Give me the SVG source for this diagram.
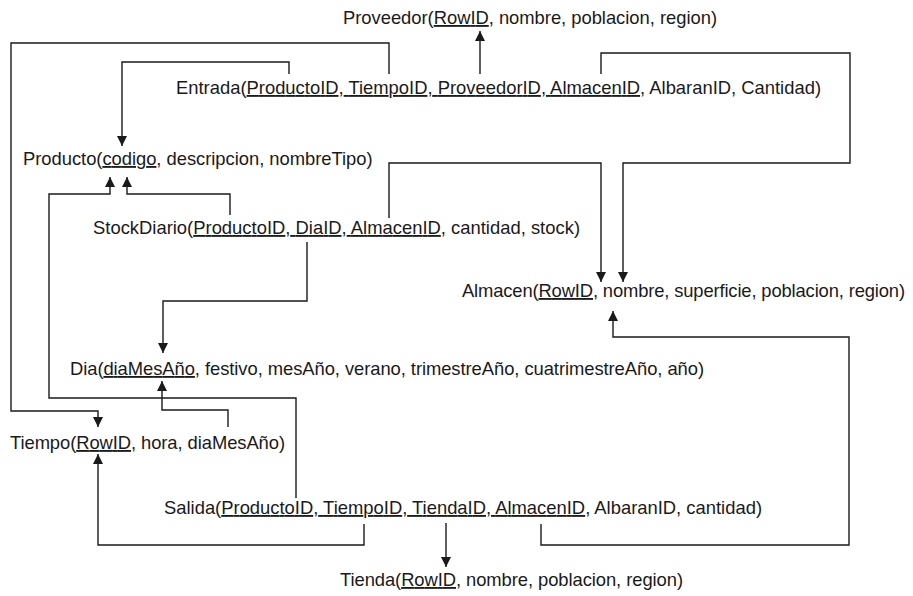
<svg xmlns="http://www.w3.org/2000/svg" width="913" height="596" viewBox="0 0 913 596">
<style>
text{font-family:"Liberation Sans",Arial,sans-serif;font-size:18.4px;fill:#1a1a1a}
.k{text-decoration:underline}
.c path{fill:none;stroke:#1a1a1a;stroke-width:1.4;marker-end:url(#ah)}
</style>
<defs>
<marker id="ah" markerUnits="userSpaceOnUse" markerWidth="10" markerHeight="10" refX="10" refY="5" orient="auto">
<path d="M0,0 L10,5 L0,10 z" fill="#1a1a1a"/>
</marker>
</defs>
<rect width="913" height="596" fill="#fff"/>
<g class="c" id="connectors">
<path d="M480,74 V31"/>
<path d="M601,74 V53 H850 V163 H623 V282"/>
<path d="M389,218 V163 H601 V282"/>
<path d="M289,74 V62 H122 V146"/>
<path d="M389,74 V43 H11 V411 H98 V427"/>
<path d="M230,215 V194 H127 V177"/>
<path d="M296,498 V398 H49 V194 H110 V177"/>
<path d="M307,242 V301 H163 V353"/>
<path d="M228,427 V410 H162 V381"/>
<path d="M364,524 V545 H98 V454"/>
<path d="M446,523 V567"/>
<path d="M541,524 V545 H849 V337 H613 V311"/>
</g>
<g id="proveedor"><text x="343" y="24" textLength="374" lengthAdjust="spacing">Proveedor(<tspan class="k">RowID</tspan>, nombre, poblacion, region)</text></g>
<g id="entrada"><text x="176" y="94" textLength="645" lengthAdjust="spacing">Entrada(<tspan class="k">ProductoID, TiempoID, ProveedorID, AlmacenID</tspan>, AlbaranID, Cantidad)</text></g>
<g id="producto"><text x="23" y="165" textLength="349.5" lengthAdjust="spacing">Producto(<tspan class="k">codigo</tspan>, descripcion, nombreTipo)</text></g>
<g id="stockdiario"><text x="93" y="234" textLength="487" lengthAdjust="spacing">StockDiario(<tspan class="k">ProductoID, DiaID, AlmacenID</tspan>, cantidad, stock)</text></g>
<g id="almacen"><text x="462" y="297" textLength="443" lengthAdjust="spacing">Almacen(<tspan class="k">RowID</tspan>, nombre, superficie, poblacion, region)</text></g>
<g id="dia"><text x="70" y="375" textLength="634" lengthAdjust="spacing">Dia(<tspan class="k">diaMesAño</tspan>, festivo, mesAño, verano, trimestreAño, cuatrimestreAño, año)</text></g>
<g id="tiempo"><text x="10" y="449" textLength="275" lengthAdjust="spacing">Tiempo(<tspan class="k">RowID</tspan>, hora, diaMesAño)</text></g>
<g id="salida"><text x="164" y="514" textLength="598" lengthAdjust="spacing">Salida(<tspan class="k">ProductoID, TiempoID, TiendaID, AlmacenID</tspan>, AlbaranID, cantidad)</text></g>
<g id="tienda"><text x="340" y="586" textLength="343" lengthAdjust="spacing">Tienda(<tspan class="k">RowID</tspan>, nombre, poblacion, region)</text></g>
</svg>
